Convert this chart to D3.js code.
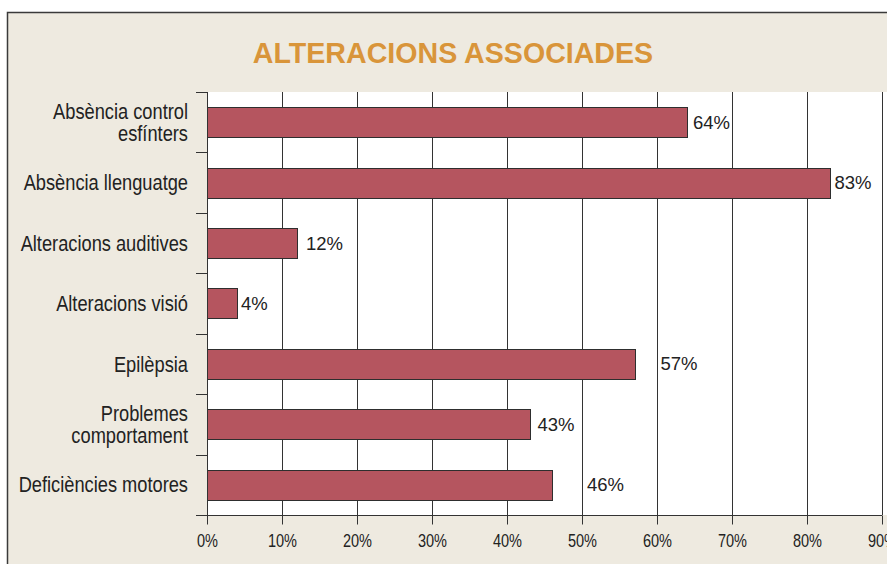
<!DOCTYPE html>
<html>
<head>
<meta charset="utf-8">
<script src="https://cdn.jsdelivr.net/npm/d3@7"></script>
<style>
  html, body { margin: 0; padding: 0; background: #fff; }
  svg { display: block; }
</style>
</head>
<body>
<svg id="svg"></svg>
<script>
'use strict';

// ================================= data ======================================
var categories = [
    "Absència control esfínters",
    "Absència llenguatge",
    "Alteracions auditives",
    "Alteracions visió",
    "Epilèpsia",
    "Problemes comportament",
    "Deficiències motores"
]
// wrapped the way the original prints them
var categoryLines = [
    ["Absència control", "esfínters"],
    ["Absència llenguatge"],
    ["Alteracions auditives"],
    ["Alteracions visió"],
    ["Epilèpsia"],
    ["Problemes", "comportament"],
    ["Deficiències motores"]
]
var values = [64, 83, 12, 4, 57, 43, 46]
var tickValues = [0, 10, 20, 30, 40, 50, 60, 70, 80, 90]
var title = "ALTERACIONS ASSOCIADES"

// labels in the original sit at uneven distances from the bar ends
var labelGap = [6, 5, 9, 4, 26, 8, 35]

// ================================= setup ======================================
var width = 887;
var height = 564;
// no narrow face installed -> squeeze Liberation Sans horizontally
var plain = "'Liberation Sans', Arial, sans-serif";
var NARROW = 0.83;

var svg = d3.select("#svg")
    .attr("width", width)
    .attr("height", height);

// beige panel with the frame on top / left
svg.append("rect")
    .attr("x", 7.5).attr("y", 12.5)
    .attr("width", width).attr("height", height)
    .attr("fill", "#eeeae0")
    .attr("stroke", "#3a3a3a")
    .attr("stroke-width", 1.5);

svg.append("text")
    .attr("x", 453)
    .attr("y", 62.5)
    .attr("text-anchor", "middle")
    .attr("fill", "#d9953a")
    .style("font-family", plain)
    .style("font-weight", "bold")
    .style("font-size", "28.6px")
    .text(title);

var plot = { left: 207, right: 882, top: 92, bottom: 515 };

var x = d3.scaleLinear()
    .domain([0, 90])
    .range([plot.left, plot.right]);

var y = d3.scaleBand()
    .domain(categories)
    .range([plot.top, plot.bottom])
    .paddingInner(0.5)
    .paddingOuter(0.25);

var yBands = d3.scaleBand()
    .domain(categories)
    .range([plot.top, plot.bottom]);

// white plotting area
svg.append("rect")
    .attr("x", plot.left)
    .attr("y", plot.top)
    .attr("width", width - plot.left)
    .attr("height", plot.bottom - plot.top)
    .attr("fill", "#fff");

// vertical grid
svg.append("g")
    .selectAll("line")
    .data(tickValues.slice(1))
    .join("line")
    .attr("x1", d => Math.round(x(d)) + 0.5)
    .attr("x2", d => Math.round(x(d)) + 0.5)
    .attr("y1", plot.top)
    .attr("y2", plot.bottom)
    .attr("stroke", "#333")
    .attr("stroke-width", 1);

// bars
svg.append("g")
    .selectAll("rect")
    .data(values)
    .join("rect")
    .attr("x", x(0) + 0.5)
    .attr("y", (d, i) => Math.round(y(categories[i])) + 0.5)
    .attr("width", d => Math.round(x(d) - x(0)))
    .attr("height", Math.round(y.bandwidth()))
    .attr("fill", "#b5555f")
    .attr("stroke", "#2e2e2e")
    .attr("stroke-width", 1);

// value labels
svg.append("g")
    .selectAll("text")
    .data(values)
    .join("text")
    .attr("x", (d, i) => x(d) + labelGap[i])
    .attr("y", (d, i) => y(categories[i]) + y.bandwidth() / 2)
    .attr("dy", "0.35em")
    .attr("fill", "#222")
    .style("font-family", plain)
    .style("font-size", "18.5px")
    .text(d => d + "%");

// left axis: band boundaries as ticks
var leftAxis = svg.append("g");
leftAxis.append("line")
    .attr("x1", plot.left + 0.5).attr("x2", plot.left + 0.5)
    .attr("y1", plot.top).attr("y2", plot.bottom)
    .attr("stroke", "#333");
leftAxis.selectAll("line.tick")
    .data(categories.map(c => yBands(c)))
    .join("line")
    .attr("class", "tick")
    .attr("x1", plot.left - 11)
    .attr("x2", plot.left)
    .attr("y1", d => Math.round(d) + 0.5)
    .attr("y2", d => Math.round(d) + 0.5)
    .attr("stroke", "#333");

// category labels
svg.append("g")
    .selectAll("text")
    .data(categoryLines)
    .join("text")
    .attr("text-anchor", "end")
    .attr("fill", "#222")
    .style("font-family", plain)
    .style("font-size", "22px")
    .attr("transform", (d, i) => "translate(188," + (yBands(categories[i]) + yBands.bandwidth() / 2) + ") scale(" + NARROW + ",1)")
    .each(function (lines) {
        d3.select(this).selectAll("tspan")
            .data(lines)
            .join("tspan")
            .attr("x", 0)
            .attr("y", (l, j) => (j - (lines.length - 1) / 2) * 22)
            .attr("dy", "0.35em")
            .text(l => l);
    });

// bottom axis
var xAxis = d3.axisBottom(x)
    .tickValues(tickValues)
    .tickFormat(d => d + "%")
    .tickSize(9)
    .tickPadding(10);

var gx = svg.append("g")
    .attr("transform", "translate(0," + (plot.bottom + 0.5) + ")")
    .call(xAxis);
gx.select(".domain")
    .attr("d", "M" + (plot.left - 11) + ",0H" + plot.right)
    .attr("stroke", "#333");
gx.selectAll(".tick line").attr("stroke", "#333");
gx.selectAll(".tick text")
    .attr("fill", "#222")
    .attr("transform", "scale(" + NARROW + ",1)")
    .style("font-family", plain)
    .style("font-size", "17.5px");
</script>
</body>
</html>
